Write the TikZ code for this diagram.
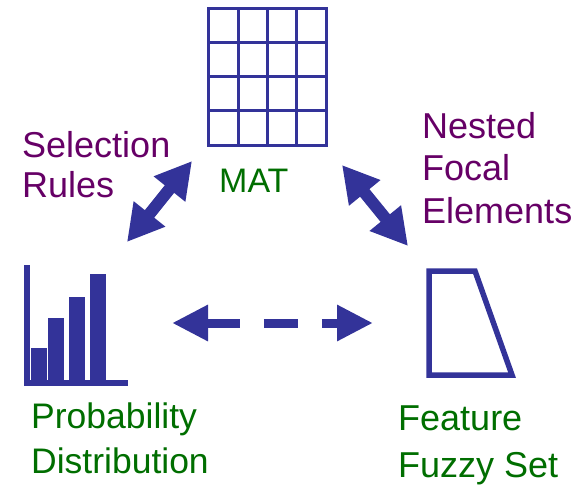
\documentclass[tikz,border=0pt]{standalone}
\usepackage{fontspec}
\setmainfont{Liberation Sans}
\usetikzlibrary{arrows.meta}
\definecolor{iconblue}{RGB}{51,51,153}
\definecolor{labpurple}{RGB}{102,0,102}
\definecolor{labgreen}{RGB}{0,110,0}
\begin{document}
\begin{tikzpicture}[x=1pt,y=-1pt,
  purplelab/.style={text=labpurple,font=\fontsize{36}{40}\selectfont,align=left,anchor=base west,inner sep=0pt},
  greenlab/.style={text=labgreen,font=\fontsize{35.5}{45}\selectfont,align=left,anchor=base west,inner sep=0pt},
  gridline/.style={draw=iconblue,line width=3pt},
  barfill/.style={fill=iconblue},
  bigarrow/.style={draw=iconblue,line width=12pt,{Triangle[length=36pt,width=38pt]}-{Triangle[length=36pt,width=38pt]}},
  dasharrow/.style={draw=iconblue,line width=9pt,dash pattern=on 34pt off 24pt on 34pt off 24pt,{Triangle[length=36pt,width=34pt]}-{Triangle[length=36pt,width=34pt]}}
]
\useasboundingbox (0,0) rectangle (581,485);

% MAT grid
\node[inner sep=0pt,minimum width=118pt,minimum height=137pt] (mat) at (267,76.5) {};
\draw[gridline] (208,8) rectangle (326,145);
\foreach \xx in {238,267,296} \draw[gridline] (\xx,8) -- (\xx,145);
\foreach \yy in {42,76,110} \draw[gridline] (208,\yy) -- (326,\yy);

% Histogram
\node[inner sep=0pt,minimum width=104pt,minimum height=121pt] (hist) at (76,325.5) {};
\fill[barfill] (24,265) rectangle (30,386);
\fill[barfill] (24,380) rectangle (128,386);
\fill[barfill] (31,348) rectangle (47,380);
\fill[barfill] (48,318) rectangle (64,380);
\fill[barfill] (69,297) rectangle (85,380);
\fill[barfill] (90,274) rectangle (106,380);

% Fuzzy set trapezoid
\node[inner sep=0pt,minimum width=83pt,minimum height=104pt] (fuzzy) at (470.5,323) {};
\draw[draw=iconblue,line width=5.5pt,line join=miter] (429,375) -- (429,271) -- (475,271) -- (512,375) -- cycle;

% Labels (anchor = baseline of the last line)
\node[text=labgreen,font=\fontsize{34}{42}\selectfont,anchor=base west,inner sep=0pt] (matlab) at (219,192) {MAT};
\node[purplelab] (sel) at (22,197) {Selection\\Rules};
\node[purplelab,font=\fontsize{36}{42.5}\selectfont] (nested) at (422,223) {Nested\\Focal\\Elements};
\node[greenlab,font=\fontsize{35.5}{44.5}\selectfont] (prob) at (31,473) {Probability\\Distribution};
\node[greenlab,font=\fontsize{36}{47}\selectfont] (feat) at (398,477) {Feature\\Fuzzy Set};

% Connectors
\coordinate (selA) at (127,242);
\coordinate (selB) at (192,161);
\coordinate (nesA) at (342,165);
\coordinate (nesB) at (408,246);
\coordinate (dashA) at (172,323);
\coordinate (dashB) at (373,323);
\draw[bigarrow] (selA) -- (selB);
\draw[bigarrow] (nesA) -- (nesB);
\draw[dasharrow] (dashA) -- (dashB);
\end{tikzpicture}
\end{document}
